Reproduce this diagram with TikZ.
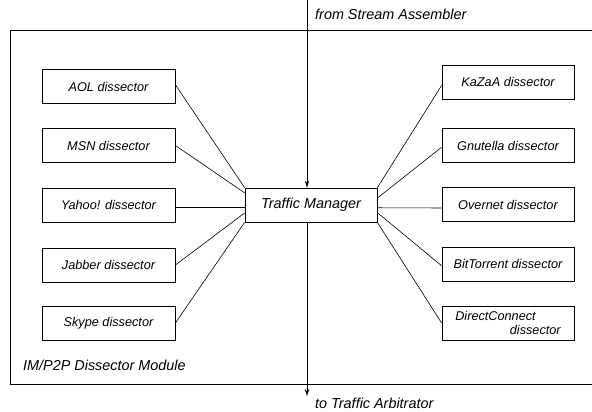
\documentclass[tikz,border=0pt]{standalone}
\usepackage{fontspec}
\setmainfont{Liberation Sans}
\usetikzlibrary{arrows.meta,calc}
\begin{document}
\begin{tikzpicture}[x=1pt,y=-1pt,
  dbox/.style={draw,line width=0.8pt,minimum width=133pt,minimum height=34pt,inner sep=0pt,
    font=\fontsize{12.7}{14}\selectfont\itshape},
  lbl/.style={anchor=west,inner sep=0pt,font=\fontsize{14.4}{16}\selectfont\itshape},
  conn/.style={line width=0.6pt},
  arr/.style={line width=0.8pt,-{Stealth[length=7pt,width=4.5pt]}}]
\useasboundingbox (0,0) rectangle (592,412);
% outer module
\draw[line width=0.9pt] (593,30) -- (10,30) -- (10,384) -- (593,384);
\node[lbl] (mod) at (23,365) {IM/P2P Dissector Module};
% traffic manager
\node[dbox,minimum width=132pt,font=\fontsize{14.4}{16}\selectfont\itshape] (tm) at (311,205) {Traffic Manager};
% left boxes
\node[dbox] (aol) at (108.5,86.5) {AOL dissector};
\node[dbox] (msn) at (108.5,145.5) {MSN dissector};
\node[dbox] (yah) at (108.5,205) {Yahoo! dissector};
\node[dbox] (jab) at (108.5,265) {Jabber dissector};
\node[dbox] (sky) at (108.5,323) {Skype dissector};
% right boxes
\node[dbox,minimum width=132pt] (kaz) at (508,82) {KaZaA dissector};
\node[dbox,minimum width=132pt] (gnu) at (508,145.5) {Gnutella dissector};
\node[dbox,minimum width=132pt] (ove) at (508,204.5) {Overnet dissector};
\node[dbox,minimum width=132pt] (bit) at (508,264) {BitTorrent dissector};
\node[dbox,minimum width=132pt,align=left,font=\fontsize{12.7}{14}\selectfont\itshape] (dc) at (508,323) {DirectConnect\\\hspace*{4.3em}dissector};
% connectors left
\draw[conn] ($(aol.north east)!0.45!(aol.south east)$) -- (tm.north west);
\draw[conn] (msn.east) -- ($(tm.north west)!0.15!(tm.south west)$);
\draw[conn] ($(yah.north east)!0.58!(yah.south east)$) -- ($(tm.north west)!0.58!(tm.south west)$);
\draw[conn] (jab.east) -- ($(tm.north west)!0.73!(tm.south west)$);
\draw[conn] (sky.east) -- (tm.south west);
% connectors right
\draw[conn] ($(kaz.north west)!0.6!(kaz.south west)$) -- (tm.north east);
\draw[conn] ($(gnu.north west)!0.55!(gnu.south west)$) -- ($(tm.north east)!0.3!(tm.south east)$);
\draw[conn] ($(ove.north west)!0.6!(ove.south west)$) -- ($(tm.north east)!0.58!(tm.south east)$);
\draw[conn] ($(bit.north west)!0.55!(bit.south west)$) -- ($(tm.north east)!0.72!(tm.south east)$);
\draw[conn] (dc.west) -- (tm.south east);
% input / output
\coordinate (in) at (307,0);
\coordinate (out) at (307,396);
\draw[arr] (in) -- (in |- tm.north);
\draw[arr] (in |- tm.south) -- (out);
\node[lbl] (from) at (315,14) {from Stream Assembler};
\node[lbl] (to) at (315,403) {to Traffic Arbitrator};
\end{tikzpicture}
\end{document}
